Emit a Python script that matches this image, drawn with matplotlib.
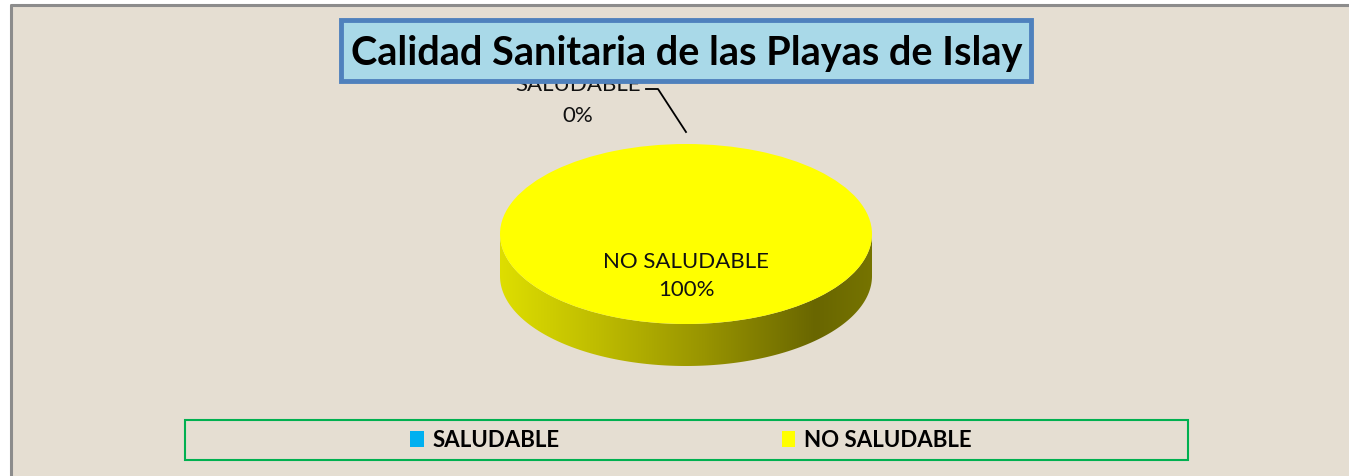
import numpy as np
import matplotlib
matplotlib.use("Agg")
import matplotlib.pyplot as plt
from matplotlib.patches import Rectangle, PathPatch
from matplotlib.path import Path

# ---- data ----
categories = ["SALUDABLE", "NO SALUDABLE"]
values = [0, 100]
colors = ["#00B0F0", "#FFFF00"]
pct_labels = ["0%", "100%"]
title = "Calidad Sanitaria de las Playas de Islay"

W, H = 1349, 477
fig = plt.figure(figsize=(W / 100, H / 100), dpi=100)
fig.patch.set_facecolor("white")

# background axes in pixel coordinates
bg = fig.add_axes([0, 0, 1, 1])
bg.set_zorder(0)
bg.axis("off")
bg.add_patch(Rectangle((10, 5), W, H, facecolor="#E5DED2", edgecolor="none", zorder=0))
bg.plot([10.5, 10.5, W], [H, 5.5, 5.5], color="#8C8C8C", lw=2.2, zorder=1, solid_capstyle="butt")

# pie geometry (pixels)
cx, cy, rx, ry, depth = 686, 235, 186, 90, 42

# side of the 3D pie with gradient
t = np.linspace(np.pi, 2 * np.pi, 200)
top_x = cx + rx * np.cos(t)
top_y = cy - ry * np.sin(t)
verts = list(zip(top_x, top_y)) + list(zip(top_x[::-1], top_y[::-1] + depth))
side_path = Path(verts + [verts[0]], closed=True)
side_patch = PathPatch(side_path, facecolor="none", edgecolor="none", zorder=2)
bg.add_patch(side_patch)
xs = np.linspace(0, 1, 400)
r = np.interp(xs, [0, 0.25, 0.55, 0.85, 1.0], [222, 192, 152, 105, 118])
g = np.interp(xs, [0, 0.25, 0.55, 0.85, 1.0], [222, 190, 148, 102, 116])
b = np.zeros_like(xs)
grad = np.stack([r, g, b], axis=-1)[None, :, :] / 255.0
im = bg.imshow(grad, extent=[cx - rx, cx + rx, cy + ry + depth, cy - 5], aspect="auto", zorder=2)
im.set_clip_path(side_patch)
bg.set_xlim(0, W)
bg.set_ylim(H, 0)

# top face: pie chart stretched into an ellipse
pax = fig.add_axes([(cx - rx) / W, 1 - (cy + ry) / H, 2 * rx / W, 2 * ry / H])
pax.set_zorder(1)
pax.patch.set_alpha(0)
wedges, _ = pax.pie(values, colors=colors, startangle=90, counterclock=False,
                    wedgeprops=dict(linewidth=0))
pax.set_aspect("auto")
pax.set_xlim(-1, 1)
pax.set_ylim(-1, 1)
pax.axis("off")

# overlay axes (pixel coordinates) for labels, title, legend frame
ov = fig.add_axes([0, 0, 1, 1])
ov.set_zorder(2)
ov.patch.set_alpha(0)
ov.set_xlim(0, W)
ov.set_ylim(H, 0)
ov.axis("off")

lbl_font = dict(family="Lato", fontsize=16, color="#111111")
ov.text(cx, 276, f"{categories[1]}\n{pct_labels[1]}", ha="center", va="center",
        linespacing=1.45, zorder=5, **lbl_font)
ov.text(578, 91, categories[0], ha="center", va="baseline", zorder=5, **lbl_font)
ov.text(578, 116, pct_labels[0], ha="center", va="center", zorder=5, **lbl_font)
ov.plot([646, 658, 686], [90, 90, 133], color="black", lw=1.3, zorder=5)

# title box
ov.add_patch(Rectangle((341, 21), 690, 61, facecolor="#A9D9E8", edgecolor="#4F81BD",
                       lw=3.5, zorder=8))
ov.text(687, 53, title, ha="center", va="center", fontsize=28.5, fontweight="bold",
        family="Lato", color="black", zorder=9)

# legend
ov.add_patch(Rectangle((185, 421), 1003, 40, facecolor="none", edgecolor="#00B050",
                       lw=1.5, zorder=6))
leg = fig.legend(wedges, categories, ncol=2, loc="center",
                 bbox_to_anchor=(691 / W, 1 - 441 / H), frameon=False,
                 prop=dict(family="Lato", weight="bold", size=16),
                 handlelength=0.6, handleheight=0.75, handletextpad=0.4,
                 columnspacing=10.0)
leg.set_zorder(10)

fig.savefig("out.png", dpi=100)
